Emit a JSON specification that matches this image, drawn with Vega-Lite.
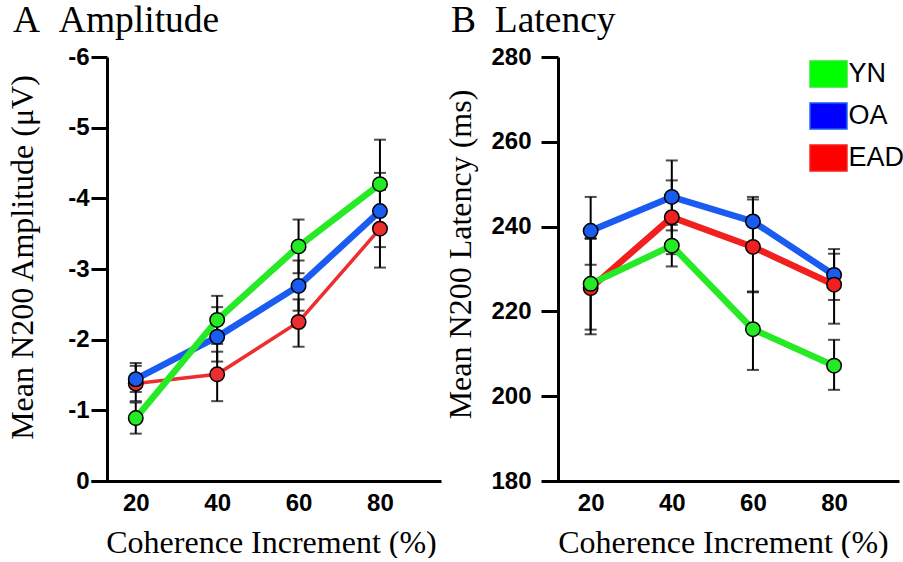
{
  "$schema": "https://vega.github.io/schema/vega-lite/v6.json",
  "background": "white",
  "padding": {"left": 5, "top": 1, "right": 0, "bottom": 0},
  "spacing": 103,
  "bounds": "flush",
  "resolve": {"scale": {"color": "independent", "fill": "independent"}},
  "config": {
    "view": {"stroke": null},
    "axis": {"domainColor": "black", "tickColor": "black", "labelColor": "black", "titleColor": "black", "grid": false}
  },
  "datasets": {
    "amp": [
      {"group": "EAD", "coh": 20, "mean": -1.38, "lo": -1.13, "hi": -1.63},
      {"group": "EAD", "coh": 40, "mean": -1.51, "lo": -1.13, "hi": -1.83},
      {"group": "EAD", "coh": 60, "mean": -2.25, "lo": -1.90, "hi": -2.57},
      {"group": "EAD", "coh": 80, "mean": -3.57, "lo": -3.02, "hi": -4.12},
      {"group": "OA", "coh": 20, "mean": -1.44, "lo": -1.26, "hi": -1.67},
      {"group": "OA", "coh": 40, "mean": -2.04, "lo": -1.69, "hi": -2.46},
      {"group": "OA", "coh": 60, "mean": -2.76, "lo": -2.41, "hi": -3.12},
      {"group": "OA", "coh": 80, "mean": -3.82, "lo": -3.31, "hi": -4.36},
      {"group": "YN", "coh": 20, "mean": -0.89, "lo": -0.67, "hi": -1.11},
      {"group": "YN", "coh": 40, "mean": -2.28, "lo": -1.94, "hi": -2.62},
      {"group": "YN", "coh": 60, "mean": -3.32, "lo": -2.94, "hi": -3.70},
      {"group": "YN", "coh": 80, "mean": -4.20, "lo": -3.57, "hi": -4.83}
    ],
    "lat": [
      {"group": "OA", "coh": 20, "mean": 239.0, "lo": 231.0, "hi": 247.0},
      {"group": "OA", "coh": 40, "mean": 247.0, "lo": 239.1, "hi": 255.6},
      {"group": "OA", "coh": 60, "mean": 241.2, "lo": 235.7, "hi": 247.0},
      {"group": "OA", "coh": 80, "mean": 228.6, "lo": 222.7, "hi": 234.7},
      {"group": "EAD", "coh": 20, "mean": 225.5, "lo": 214.6, "hi": 237.1},
      {"group": "EAD", "coh": 40, "mean": 242.2, "lo": 233.5, "hi": 250.9},
      {"group": "EAD", "coh": 60, "mean": 235.2, "lo": 224.5, "hi": 246.4},
      {"group": "EAD", "coh": 80, "mean": 226.3, "lo": 217.1, "hi": 233.6},
      {"group": "YN", "coh": 20, "mean": 226.5, "lo": 215.7, "hi": 237.3},
      {"group": "YN", "coh": 40, "mean": 235.5, "lo": 230.6, "hi": 240.4},
      {"group": "YN", "coh": 60, "mean": 215.8, "lo": 206.2, "hi": 224.7},
      {"group": "YN", "coh": 80, "mean": 207.2, "lo": 201.5, "hi": 213.3}
    ]
  },
  "hconcat": [
    {
      "width": 350,
      "height": 424,
      "data": {"name": "amp"},
      "title": {"text": "A\u00a0\u00a0Amplitude", "anchor": "start", "frame": "group", "font": "Liberation Serif", "fontSize": 37.5, "fontWeight": "normal", "color": "black", "dx": -78, "offset": -24, "baseline": "alphabetic"},
      "layer": [
        {
          "mark": {"type": "errorbar", "ticks": true, "size": 12, "thickness": 2, "color": "black"},
          "encoding": {
            "x": {"field": "coh", "type": "quantitative", "scale": {"domain": [9, 95], "nice": false, "zero": false},
              "axis": {"values": [20, 40, 60, 80], "ticks": false, "tickSize": 0, "labelPadding": 10, "labelFont": "Liberation Sans", "labelFontWeight": "bold", "labelFontSize": 24, "domainWidth": 3, "title": "Coherence Increment (%)", "titleFont": "Liberation Serif", "titleFontSize": 32, "titleFontWeight": "normal", "titleBaseline": "alphabetic", "titleX": 180, "titleY": 71}},
            "y": {"field": "lo", "type": "quantitative", "scale": {"domain": [-6, 0], "reverse": true, "nice": false, "zero": false},
              "axis": {"values": [-6, -5, -4, -3, -2, -1, 0], "format": "d", "offset": -16, "tickSize": 16, "tickWidth": 3, "domainWidth": 3, "labelPadding": 2, "labelFont": "Liberation Sans", "labelFontWeight": "bold", "labelFontSize": 24, "labelExpr": "replace(datum.label, '\u2212', '-')", "title": "Mean N200 Amplitude (\u03bcV)", "titleFont": "Liberation Serif", "titleFontSize": 32, "titleFontWeight": "normal", "titleAngle": -90, "titleBaseline": "alphabetic", "titleAlign": "center", "titleX": -75, "titleY": 200}},
            "y2": {"field": "hi"}
          }
        },
        {
          "mark": {"type": "line"},
          "encoding": {
            "x": {"field": "coh", "type": "quantitative"},
            "y": {"field": "mean", "type": "quantitative", "axis": {"title": "Mean N200 Amplitude (\u03bcV)"}},
            "color": {"field": "group", "type": "nominal", "scale": {"domain": ["YN", "OA", "EAD"], "range": ["#25ea25", "#1a5cf2", "#ee2e2e"]}, "legend": null},
            "strokeWidth": {"condition": {"test": "datum.group === 'EAD'", "value": 3.5}, "value": 6.5}
          }
        },
        {
          "mark": {"type": "circle", "size": 210, "stroke": "black", "strokeWidth": 1.5, "opacity": 1},
          "encoding": {
            "x": {"field": "coh", "type": "quantitative"},
            "y": {"field": "mean", "type": "quantitative", "axis": {"title": "Mean N200 Amplitude (\u03bcV)"}},
            "color": {"field": "group", "type": "nominal", "scale": {"domain": ["YN", "OA", "EAD"], "range": ["#25ea25", "#1a5cf2", "#ee2e2e"]}, "legend": null}
          }
        }
      ]
    },
    {
      "width": 355,
      "height": 424,
      "data": {"name": "lat"},
      "title": {"text": "B\u00a0\u00a0Latency", "anchor": "start", "frame": "group", "font": "Liberation Serif", "fontSize": 37.5, "fontWeight": "normal", "color": "black", "dx": -93, "offset": -24, "baseline": "alphabetic"},
      "layer": [
        {
          "mark": {"type": "errorbar", "ticks": true, "size": 12, "thickness": 2, "color": "black"},
          "encoding": {
            "x": {"field": "coh", "type": "quantitative", "scale": {"domain": [8.5, 96], "nice": false, "zero": false},
              "axis": {"values": [20, 40, 60, 80], "ticks": false, "tickSize": 0, "labelPadding": 10, "labelFont": "Liberation Sans", "labelFontWeight": "bold", "labelFontSize": 24, "domainWidth": 3, "title": "Coherence Increment (%)", "titleFont": "Liberation Serif", "titleFontSize": 32, "titleFontWeight": "normal", "titleBaseline": "alphabetic", "titleX": 179, "titleY": 71}},
            "y": {"field": "lo", "type": "quantitative", "scale": {"domain": [180, 280], "nice": false, "zero": false},
              "axis": {"values": [180, 200, 220, 240, 260, 280], "offset": -14, "tickSize": 17, "tickWidth": 3, "domainWidth": 3, "labelPadding": 10, "labelFont": "Liberation Sans", "labelFontWeight": "bold", "labelFontSize": 24, "title": "Mean N200 Latency (ms)", "titleFont": "Liberation Serif", "titleFontSize": 32, "titleFontWeight": "normal", "titleAngle": -90, "titleBaseline": "alphabetic", "titleAlign": "center", "titleX": -88, "titleY": 197}},
            "y2": {"field": "hi"}
          }
        },
        {
          "mark": {"type": "square", "size": 100, "filled": true, "opacity": 0},
          "encoding": {
            "x": {"field": "coh", "type": "quantitative"},
            "y": {"field": "mean", "type": "quantitative", "axis": {"title": "Mean N200 Latency (ms)"}},
            "fill": {"field": "group", "type": "nominal", "scale": {"domain": ["YN", "OA", "EAD"], "range": ["#00ff00", "#0000ff", "#ff0000"]},
              "legend": {"orient": "none", "legendX": 270.5, "legendY": 3, "title": null, "padding": 0, "symbolType": "M-1.42,-1H1.42V1H-1.42Z", "symbolSize": 676, "symbolStrokeWidth": 1.5, "symbolStrokeColor": "#444444", "symbolOpacity": 1, "labelFont": "Liberation Sans", "labelFontSize": 27, "labelColor": "black", "labelOffset": 6, "rowPadding": 10}}
          }
        },
        {
          "mark": {"type": "line", "strokeWidth": 6.5},
          "encoding": {
            "x": {"field": "coh", "type": "quantitative"},
            "y": {"field": "mean", "type": "quantitative", "axis": {"title": "Mean N200 Latency (ms)"}},
            "color": {"field": "group", "type": "nominal", "scale": {"domain": ["YN", "OA", "EAD"], "range": ["#25ea25", "#1a5cf2", "#f21f1f"]}, "legend": null}
          }
        },
        {
          "mark": {"type": "circle", "size": 210, "stroke": "black", "strokeWidth": 1.5, "opacity": 1},
          "encoding": {
            "x": {"field": "coh", "type": "quantitative"},
            "y": {"field": "mean", "type": "quantitative", "axis": {"title": "Mean N200 Latency (ms)"}},
            "color": {"field": "group", "type": "nominal", "scale": {"domain": ["YN", "OA", "EAD"], "range": ["#25ea25", "#1a5cf2", "#f21f1f"]}, "legend": null}
          }
        }
      ]
    }
  ]
}
